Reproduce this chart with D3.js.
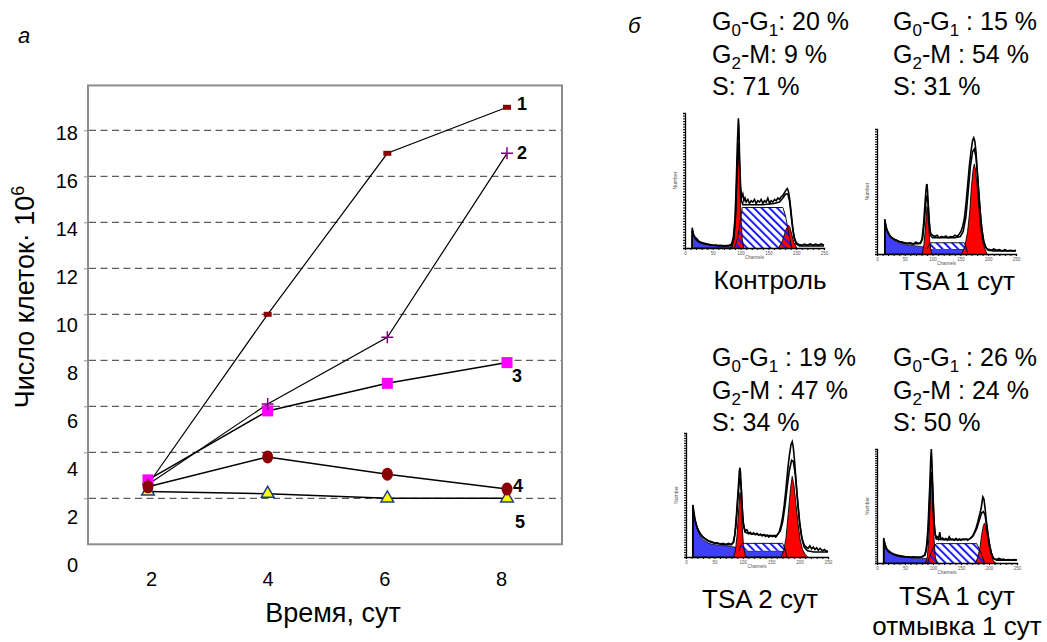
<!DOCTYPE html>
<html>
<head>
<meta charset="utf-8">
<script src="https://cdn.jsdelivr.net/npm/d3@7/dist/d3.min.js"></script>
<style>
  body { margin: 0; background: #fff; }
  svg text { font-family: "Liberation Sans", Arial, sans-serif; }
</style>
</head>
<body>
<svg id="chart_svg" width="1047" height="642"></svg>
<script>
// ---- panel a: number of cells vs days
var days = [2, 4, 6, 8];
var yTicks = [0, 2, 4, 6, 8, 10, 12, 14, 16, 18];
var gridTicks = [2, 4, 6, 8, 10, 12, 14, 16, 18];
var series1 = [2.6, 10, 17, 19];
var series2 = [2.6, 6.1, 9.0, 17];
var series3 = [2.8, 5.8, 7.0, 7.9];
var series4 = [2.5, 3.8, 3.05, 2.4];
var series5 = [2.3, 2.2, 2.0, 2.0];
var seriesNames = ["1", "2", "3", "4", "5"];

// ---- panel б: cell cycle phases (%)
var captions = [["Контроль"], ["TSA 1 сут"], ["TSA 2 сут"], ["TSA 1 сут", "отмывка 1 сут"]];
var phaseG1 = [20, 15, 19, 26];
var phaseG2 = [9, 54, 47, 24];
var phaseS = [71, 31, 34, 50];
var histTicks = [0, 50, 100, 150, 200, 250];

// histograms: [channel, % of axis height]; S phase: [channel, low, high]
var ctrlDebris = [[12.5,0],[13,14],[16,9],[20,6],[25,4.5],[30,3.5],[40,2.5],[50,2],[60,1.5],[70,1.3],[80,1.2],[86,1.2],[87,0]];
var ctrlG1 = [[84,0],[88,6],[91,22],[93,45],[95,65],[96,72],[97,68],[99,45],[101,20],[103,6],[106,0]];
var ctrlG2 = [[168,0],[174,4],[178,9],[182,14],[186,17],[189,15],[192,10],[196,4],[201,0]];
var ctrlS = [[89,0,0],[95,0,8],[100,0,22],[103,0,30],[176,0,30],[180,0,25],[184,0,17],[188,0,8],[192,0,0]];
var ctrlRaw = [[13,0],[13,15],[15,10],[18,8],[21,7],[25,5],[30,4],[35,3.5],[40,3],[45,2.5],[50,2],[55,2.2],[60,1.8],[65,2],[70,1.6],[75,1.8],[80,2],[84,3],[87,8],[90,22],[92,45],[94,75],[96,96],[97,90],[98,70],[100,45],[102,38],[104,40],[106,35],[108,37],[110,34],[113,36],[116,33],[119,35],[122,34],[125,36],[128,33],[131,35],[134,34],[137,36],[140,33],[143,35],[146,34],[149,37],[152,33],[155,35],[158,34],[161,36],[164,35],[167,37],[170,36],[173,38],[176,39],[179,41],[182,43],[184,44],[186,42],[188,37],[190,30],[192,22],[194,14],[196,9],[198,6],[200,4],[203,3],[206,2.5],[210,2],[215,2.8],[220,2],[225,3],[230,2],[235,2.8],[240,2],[245,3],[250,2]];
var ctrlFit = [[13,0],[13,13],[18,7],[25,4.5],[35,3],[50,2],[70,1.5],[84,2],[88,8],[91,25],[93,50],[95,72],[96,78],[97,72],[99,50],[101,36],[104,32],[120,32],[140,32],[160,33],[170,34],[176,37],[181,40],[185,40],[188,35],[192,20],[196,8],[200,3],[206,1.5],[250,1.5]];

var tsa1Debris = [[13.5,0],[14,27],[17,20],[20,16],[25,13],[30,11],[40,9],[50,7.5],[60,7],[70,6.5],[80,6],[95,5],[120,4.5],[150,4],[158,3.5],[160,0]];
var tsa1G1 = [[81,0],[84,6],[87,20],[89,33],[90,38],[91,35],[93,22],[95,10],[97,3],[99,0]];
var tsa1G2 = [[152,0],[158,6],[163,18],[167,35],[170,55],[173,68],[175,72],[177,68],[180,55],[183,38],[186,22],[190,10],[194,4],[198,0]];
var tsa1S = [[90,4,4],[93,4,7],[96,4,9],[157,4,9],[160,3,6],[163,0,0]];
var tsa1Raw = [[14,0],[14,28],[16,22],[19,18],[22,15],[26,13],[30,12],[35,11],[40,10],[45,9.5],[50,9],[55,8.5],[60,9],[65,8],[70,9.5],[75,8.5],[78,9],[81,12],[84,25],[87,45],[89,55],[90,56],[91,50],[93,32],[95,20],[97,16],[100,15],[104,14],[108,15],[112,13],[116,14],[120,13.5],[124,14.5],[128,13],[132,14],[136,13.5],[140,15],[144,14],[148,16],[151,18],[154,22],[157,28],[160,40],[163,55],[166,70],[169,82],[172,91],[174,93],[176,90],[178,82],[180,68],[183,50],[186,32],[189,18],[192,10],[195,6],[198,4],[202,3.5],[206,3],[210,4],[215,3],[220,3.5],[225,2.5],[230,3.5],[235,2.5],[240,3],[245,2.5],[250,3]];
var tsa1Fit = [[14,0],[14,26],[18,19],[24,14],[30,12],[40,10],[50,8.5],[65,8],[78,8.5],[82,12],[85,25],[88,42],[90,47],[92,40],[94,25],[96,15],[100,13],[120,13],[140,13],[150,14],[155,18],[160,30],[164,50],[168,70],[172,82],[175,84],[178,78],[181,62],[184,42],[188,22],[192,10],[196,5],[200,3],[210,2.5],[250,2.5]];

var tsa2Debris = [[11.5,0],[12,42],[14,34],[17,27],[20,22],[25,17],[30,14],[40,11],[50,10],[60,9.5],[70,9],[80,8.5],[86,8],[95,6],[110,5],[130,5],[150,5],[170,5],[173,0]];
var tsa2G1 = [[84,0],[87,5],[90,18],[93,40],[95,52],[97,45],[99,25],[101,10],[104,2],[106,0]];
var tsa2G2 = [[168,0],[172,5],[176,15],[180,35],[184,55],[187,65],[190,58],[193,45],[197,28],[201,14],[205,6],[210,2],[214,0]];
var tsa2S = [[93,5,5],[96,5,9],[99,5,11],[170,5,11],[174,4,7],[178,0,0]];
var tsa2Raw = [[12,0],[12,42],[14,36],[16,30],[19,25],[22,21],[26,18],[30,16],[35,14],[40,12.5],[45,12],[50,11],[55,11.5],[60,10.5],[65,11],[70,10],[75,11],[80,10],[83,12],[86,18],[89,35],[92,55],[94,70],[95,72],[96,68],[98,48],[100,30],[102,24],[104,21],[107,22],[110,19],[113,20],[116,18.5],[119,19.5],[122,18],[125,19],[128,17.5],[131,18.5],[134,17],[137,18],[140,16.5],[143,17.5],[146,16],[149,17.5],[152,16.5],[155,17],[158,16],[161,18],[164,20],[167,25],[170,32],[173,42],[176,55],[179,70],[182,82],[185,91],[187,93],[189,88],[191,78],[194,60],[197,42],[200,28],[203,18],[206,12],[209,9],[212,8],[215,7],[218,9],[221,6.5],[224,8],[227,6],[230,7.5],[233,5.5],[236,7],[240,5],[244,6],[247,4.5],[250,5]];
var tsa2Fit = [[12,0],[12,40],[16,29],[20,23],[25,19],[30,16],[40,13],[50,11.5],[60,10.5],[70,10],[80,10],[84,12],[88,25],[91,45],[94,62],[95,64],[97,58],[99,40],[101,27],[104,20],[110,19],[130,18],[150,17],[160,17.5],[166,21],[170,28],[174,40],[178,56],[182,70],[186,78],[189,77],[192,68],[196,48],[200,28],[204,15],[208,8],[214,5],[225,4],[250,4]];

var washDebris = [[11.5,0],[12,21],[14,16],[17,12],[20,10],[25,8],[30,7],[40,5.5],[50,5],[60,4.5],[70,4],[80,4],[88,4],[90,0]];
var washG1 = [[87,0],[90,6],[93,25],[95,55],[97,77],[98,72],[100,45],[102,20],[104,6],[107,0]];
var washG2 = [[176,0],[180,5],[184,14],[187,25],[190,33],[192,35],[194,32],[197,24],[200,15],[204,7],[208,2],[212,0]];
var washS = [[90,0,0],[96,0,8],[102,0,15],[106,0,17],[178,0,17],[183,0,12],[188,0,6],[192,0,0]];
var washRaw = [[12,0],[12,22],[14,17],[17,13],[20,11],[25,9],[30,8],[35,7],[40,6.5],[45,6],[50,5.5],[55,5.5],[60,5],[65,5.5],[70,5],[75,5],[80,5.5],[85,7],[88,12],[91,30],[94,65],[96,92],[97,100],[98,90],[100,60],[102,35],[104,25],[106,22],[108,23],[110,21],[112,27],[114,21],[117,22],[120,20.5],[123,21.5],[126,20],[129,23],[132,20.5],[135,21],[138,20],[141,21.5],[144,20],[147,21],[150,20],[153,21],[156,20.5],[159,21],[162,20],[165,21],[168,22],[171,24],[174,27],[177,31],[180,36],[183,42],[186,48],[188,55],[189,58],[191,56],[193,48],[195,38],[198,26],[201,16],[204,9],[207,5],[210,3.5],[214,3],[218,4],[222,3],[226,3.5],[230,2.5],[235,3],[240,2.5],[245,3],[250,2.5]];
var washFit = [[12,0],[12,20],[16,13],[20,10],[30,7.5],[40,6],[60,5],[80,5],[86,7],[90,18],[93,42],[95,68],[97,80],[99,70],[101,45],[103,28],[106,21],[120,20.5],[150,20.5],[165,21],[172,24],[178,30],[183,38],[187,44],[190,45],[193,42],[196,32],[200,18],[204,9],[208,4],[214,2.5],[250,2.5]];

var svg = d3.select("#chart_svg");

function drawPanelA() {
    var xScale = d3.scaleLinear().domain([2, 8]).range([148, 507]);
    var yScale = d3.scaleLinear().domain([0, 18]).range([544.3, 130.3]);
    // tick labels in the original sit on a slightly different spacing than the grid
    var xLabelScale = d3.scaleLinear().domain([2, 8]).range([151, 501]);
    var yLabelScale = d3.scaleLinear().domain([0, 18]).range([565, 132.7]);

    // frame
    svg.append("rect")
        .attr("x", 88).attr("y", yScale(19.95))
        .attr("width", 474).attr("height", yScale(0) - yScale(19.95))
        .attr("fill", "none").attr("stroke", "#8c8c8c").attr("stroke-width", 2);

    // dashed grid
    svg.append("g").selectAll("line")
        .data(gridTicks)
        .join("line")
        .attr("x1", 89).attr("x2", 561)
        .attr("y1", d => yScale(d)).attr("y2", d => yScale(d))
        .attr("stroke", "#333").attr("stroke-width", 1)
        .attr("stroke-dasharray", "7,4.5");

    // little ticks on the frame
    var tickAxis = svg.append("g")
        .attr("transform", "translate(88,0)")
        .call(d3.axisLeft(yScale).tickValues(gridTicks).tickSize(4).tickFormat(""));
    tickAxis.select(".domain").remove();
    tickAxis.selectAll("line").attr("stroke", "#8c8c8c");

    var yAxis = svg.append("g")
        .attr("transform", "translate(78,0)")
        .call(d3.axisLeft(yLabelScale).tickValues(yTicks).tickSize(0).tickPadding(0));
    yAxis.select(".domain").remove();
    yAxis.selectAll("text")
        .attr("font-size", 20).attr("fill", "#000");

    var xAxis = svg.append("g")
        .attr("transform", "translate(0,572)")
        .call(d3.axisBottom(xLabelScale).tickValues(days).tickSize(0).tickPadding(0)
            .tickFormat(d3.format("d")));
    xAxis.select(".domain").remove();
    xAxis.selectAll("text")
        .attr("font-size", 20).attr("fill", "#000");

    // axis titles
    svg.append("text")
        .attr("x", 333).attr("y", 622)
        .attr("text-anchor", "middle")
        .attr("font-size", 27)
        .text("Время, сут");

    var yTitle = svg.append("text")
        .attr("transform", "translate(34,297) rotate(-90)")
        .attr("text-anchor", "middle")
        .attr("font-size", 27);
    yTitle.append("tspan").text("Число клеток· 10");
    yTitle.append("tspan").attr("dy", -10).attr("font-size", 18).text("6");

    svg.append("text")
        .attr("x", 18).attr("y", 43)
        .attr("font-size", 22).attr("font-style", "italic")
        .text("а");

    // lines
    var allSeries = [series1, series2, series3, series4, series5];
    var line = d3.line()
        .x((d, i) => xScale(days[i]))
        .y(d => yScale(d));
    svg.append("g").selectAll("path")
        .data(allSeries)
        .join("path")
        .attr("d", line)
        .attr("fill", "none")
        .attr("stroke", "#000")
        .attr("stroke-width", (d, i) => i < 2 ? 1.2 : 1.5);

    // markers
    var pts = s => s.map((v, i) => ({ x: xScale(days[i]), y: yScale(v) }));

    svg.append("g").selectAll("path")
        .data(pts(series5))
        .join("path")
        .attr("d", d3.symbol(d3.symbolTriangle).size(70))
        .attr("transform", d => `translate(${d.x},${d.y})`)
        .attr("fill", "#ffff00").attr("stroke", "#1f3f82").attr("stroke-width", 1.5);

    svg.append("g").selectAll("rect")
        .data(pts(series3))
        .join("rect")
        .attr("x", d => d.x - 5.5).attr("y", d => d.y - 5.5)
        .attr("width", 11).attr("height", 11)
        .attr("fill", "#ff00ff");

    svg.append("g").selectAll("rect")
        .data(pts(series1))
        .join("rect")
        .attr("x", d => d.x - 4).attr("y", d => d.y - 2.5)
        .attr("width", 8).attr("height", 5)
        .attr("fill", "#8b0000");

    svg.append("g").selectAll("path")
        .data(pts(series2))
        .join("path")
        .attr("d", d => `M${d.x - 6},${d.y}H${d.x + 6}M${d.x},${d.y - 6}V${d.y + 6}`)
        .attr("stroke", "#800080").attr("stroke-width", 1.5);

    svg.append("g").selectAll("ellipse")
        .data(pts(series4))
        .join("ellipse")
        .attr("cx", d => d.x).attr("cy", d => d.y)
        .attr("rx", 5.5).attr("ry", 6.5)
        .attr("fill", "#8b0000");

    // series numbers next to the last point
    var labelShift = [[10, 3], [10, 6], [5, 19], [6, 3], [8, 30]];
    svg.append("g").selectAll("text")
        .data(allSeries)
        .join("text")
        .attr("x", (d, i) => xScale(8) + labelShift[i][0])
        .attr("y", (d, i) => yScale(d[3]) + labelShift[i][1])
        .attr("font-size", 18).attr("font-weight", "bold")
        .text((d, i) => seriesNames[i]);
}

function drawHist(h) {
    var x = d3.scaleLinear().domain([0, 250]).range([h.left, h.right]);
    var y = d3.scaleLinear().domain([0, 100]).range([h.bottom, h.top]);
    var g = svg.append("g");

    var area = d3.area().x(d => x(d[0])).y0(y(0)).y1(d => y(d[1]));
    var sArea = d3.area().x(d => x(d[0])).y0(d => y(d[1])).y1(d => y(d[2]));
    var line = d3.line().x(d => x(d[0])).y(d => y(d[1]));
    var sTop = d3.line().x(d => x(d[0])).y(d => y(d[2]));

    g.append("path").datum(h.debris).attr("d", area)
        .attr("fill", "#3f3ff5").attr("stroke", "#000").attr("stroke-width", 0.7);
    g.append("path").datum(h.s).attr("d", sArea).attr("fill", "#fff");
    g.append("path").datum(h.g1).attr("d", area).attr("fill", "#ff0000");
    g.append("path").datum(h.g2).attr("d", area).attr("fill", "#ff0000");
    g.append("path").datum(h.s).attr("d", sArea).attr("fill", "url(#hatch)");
    g.append("path").datum(h.s).attr("d", sTop)
        .attr("fill", "none").attr("stroke", "#000").attr("stroke-width", 0.9);
    g.append("path").datum(h.g1).attr("d", line)
        .attr("fill", "none").attr("stroke", "#000").attr("stroke-width", 0.9);
    g.append("path").datum(h.g2).attr("d", line)
        .attr("fill", "none").attr("stroke", "#000").attr("stroke-width", 0.9);
    g.append("path").datum(h.fit).attr("d", line)
        .attr("fill", "none").attr("stroke", "#000").attr("stroke-width", 1.6);
    g.append("path").datum(h.raw).attr("d", line)
        .attr("fill", "none").attr("stroke", "#000").attr("stroke-width", 1.6);

    // axes
    var xa = g.append("g")
        .attr("transform", `translate(0,${h.bottom})`)
        .call(d3.axisBottom(x).tickValues(x.ticks(25)).tickSize(2)
            .tickFormat(d => histTicks.includes(d) ? d : ""));
    xa.selectAll("text").attr("font-size", 4.5).attr("fill", "#555").attr("dy", "0.4em");
    g.append("g")
        .attr("transform", `translate(${h.left},0)`)
        .call(d3.axisLeft(y).tickValues(y.ticks(40)).tickSize(2).tickFormat(""));
    g.selectAll(".domain").attr("stroke-width", 1.3);

    g.append("text")
        .attr("x", x(125)).attr("y", h.bottom + 11)
        .attr("text-anchor", "middle").attr("font-size", 4.5).attr("fill", "#555")
        .text("Channels");
    g.append("text")
        .attr("transform", `translate(${h.left - 8},${(h.top + h.bottom) / 2}) rotate(-90)`)
        .attr("text-anchor", "middle").attr("font-size", 5).attr("fill", "#555")
        .text("Number");

    // caption
    svg.append("g").selectAll("text")
        .data(h.caption)
        .join("text")
        .attr("x", h.capX).attr("y", (d, i) => h.capY + i * 30)
        .attr("text-anchor", "middle").attr("font-size", 26)
        .text(d => d);

    // phase percentages
    var t = svg.append("g").attr("font-size", 25);
    var sep = h.tight ? ": " : " : ";
    var l1 = t.append("text").attr("x", h.textX).attr("y", h.textY);
    l1.append("tspan").text("G");
    l1.append("tspan").attr("dy", 6).attr("font-size", 17).text("0");
    l1.append("tspan").attr("dy", -6).text("-G");
    l1.append("tspan").attr("dy", 6).attr("font-size", 17).text("1");
    l1.append("tspan").attr("dy", -6).text(sep + h.g1pct + " %");
    var l2 = t.append("text").attr("x", h.textX).attr("y", h.textY + 32.5);
    l2.append("tspan").text("G");
    l2.append("tspan").attr("dy", 6).attr("font-size", 17).text("2");
    l2.append("tspan").attr("dy", -6).text("-M" + sep + h.g2pct + " %");
    t.append("text").attr("x", h.textX).attr("y", h.textY + 65)
        .text("S: " + h.spct + " %");
}

// hatch pattern for S phase
var defs = svg.append("defs");
var pat = defs.append("pattern")
    .attr("id", "hatch")
    .attr("patternUnits", "userSpaceOnUse")
    .attr("width", 5.5).attr("height", 5.5)
    .attr("patternTransform", "rotate(-45)");
pat.append("line")
    .attr("x1", 1).attr("y1", 0).attr("x2", 1).attr("y2", 5.5)
    .attr("stroke", "#1a1aff").attr("stroke-width", 2);

drawPanelA();

svg.append("text")
    .attr("x", 628).attr("y", 33)
    .attr("font-size", 22).attr("font-style", "italic")
    .text("б");

drawHist({ left: 685, right: 824, top: 113, bottom: 248,
    debris: ctrlDebris, g1: ctrlG1, g2: ctrlG2, s: ctrlS, raw: ctrlRaw, fit: ctrlFit,
    caption: captions[0], capX: 770, capY: 289,
    textX: 712, textY: 30, tight: true,
    g1pct: phaseG1[0], g2pct: phaseG2[0], spct: phaseS[0] });
drawHist({ left: 877, right: 1016, top: 129, bottom: 254,
    debris: tsa1Debris, g1: tsa1G1, g2: tsa1G2, s: tsa1S, raw: tsa1Raw, fit: tsa1Fit,
    caption: captions[1], capX: 957, capY: 290,
    textX: 893, textY: 30, tight: false,
    g1pct: phaseG1[1], g2pct: phaseG2[1], spct: phaseS[1] });
drawHist({ left: 686, right: 828, top: 433, bottom: 557,
    debris: tsa2Debris, g1: tsa2G1, g2: tsa2G2, s: tsa2S, raw: tsa2Raw, fit: tsa2Fit,
    caption: captions[2], capX: 760, capY: 608,
    textX: 712, textY: 366, tight: false,
    g1pct: phaseG1[2], g2pct: phaseG2[2], spct: phaseS[2] });
drawHist({ left: 877, right: 1017, top: 449, bottom: 563,
    debris: washDebris, g1: washG1, g2: washG2, s: washS, raw: washRaw, fit: washFit,
    caption: captions[3], capX: 957, capY: 605,
    textX: 893, textY: 366, tight: false,
    g1pct: phaseG1[3], g2pct: phaseG2[3], spct: phaseS[3] });
</script>
</body>
</html>
